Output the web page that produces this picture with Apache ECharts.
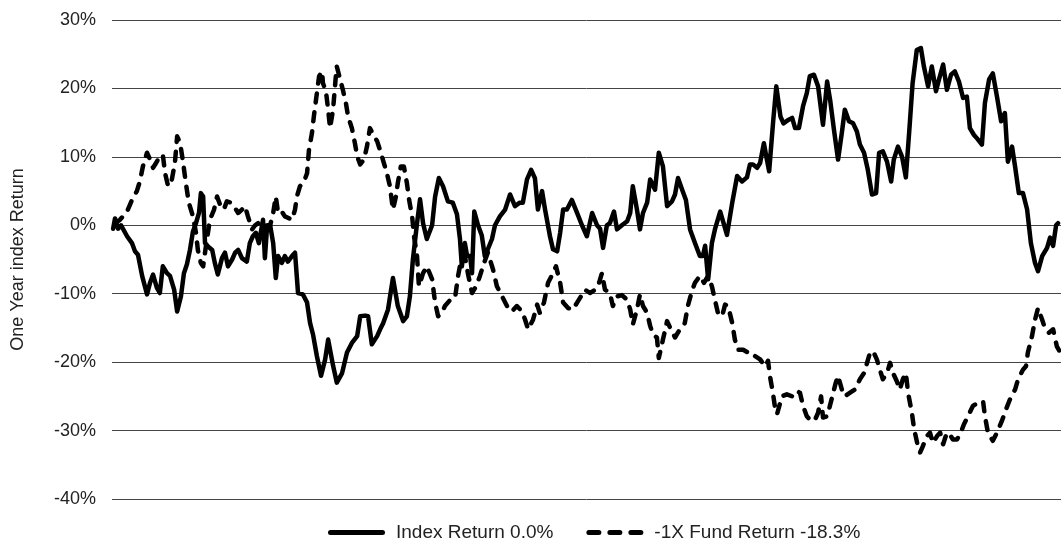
<!DOCTYPE html>
<html>
<head>
<meta charset="utf-8">
<script src="https://cdn.jsdelivr.net/npm/echarts@6/dist/echarts.min.js"></script>
<style>
html,body{margin:0;padding:0;background:#fff;}
#chart{width:1061px;height:539px;}
</style>
</head>
<body>
<div id="chart"></div>
<script>
// Trading day index (0..252) and one-year returns in percent
const indexDay = [0.3,0.8,1.6,2.4,4.0,5.3,6.1,6.9,8.0,9.3,10.1,10.9,11.9,12.7,13.5,14.6,15.4,16.5,17.3,18.3,19.1,19.9,20.7,21.5,22.3,23.1,23.6,24.2,24.7,25.5,26.6,27.3,28.1,29.2,30.0,30.8,31.9,32.7,33.5,34.5,35.8,36.6,37.4,38.2,39.0,40.1,40.6,41.2,42.0,42.8,43.5,44.1,45.1,45.9,46.7,47.8,48.6,49.4,50.7,51.8,52.6,53.4,54.4,55.5,56.6,57.4,58.7,59.7,61.1,62.4,63.7,65.1,65.9,67.2,68.0,69.0,70.4,71.2,72.0,73.3,74.6,75.9,77.3,78.3,79.1,79.9,81.0,81.8,82.6,83.6,85.0,85.8,86.8,87.9,89.2,90.5,91.6,92.4,92.9,93.7,94.3,95.1,95.6,96.2,97.2,98.2,99.0,99.8,100.9,101.7,103.0,104.4,105.7,107.0,108.3,109.1,110.2,111.3,112.3,113.1,114.2,115.0,116.3,117.1,118.2,119.0,119.8,120.8,122.1,123.5,124.8,126.1,127.5,128.8,129.6,130.4,131.4,132.2,133.3,134.1,135.4,136.8,137.6,138.3,139.4,140.2,141.0,142.1,142.9,144.2,145.2,146.3,147.4,148.7,149.5,150.3,151.4,152.4,153.5,154.8,156.1,156.9,157.5,158.3,159.3,160.1,161.5,162.3,163.3,164.7,166.0,167.3,168.6,169.4,170.2,171.3,172.1,173.1,173.9,174.5,175.6,176.4,177.5,178.3,179.6,180.6,181.4,182.4,183.5,184.5,185.3,186.4,187.5,188.8,189.9,190.7,191.7,192.8,193.8,194.6,195.7,196.8,197.8,198.6,199.7,200.7,201.8,202.9,203.7,204.7,205.8,206.9,207.6,208.7,209.8,210.8,211.8,212.6,213.7,214.8,215.6,216.7,217.7,218.8,219.6,220.7,221.7,222.8,223.8,224.9,226.0,227.0,227.8,228.9,229.7,231.0,231.8,232.9,233.9,235.0,236.1,237.1,237.9,239.0,239.8,240.8,241.9,243.0,244.0,245.1,245.9,247.0,248.3,249.1,249.9,250.7,251.2];
const indexRet = [-0.5,1.0,-0.5,0,-1.6,-2.6,-3.8,-4.3,-7.4,-10.1,-8.4,-7.2,-9.1,-9.9,-6.0,-7.0,-7.4,-9.4,-12.6,-10.4,-7.0,-5.7,-3.6,-0.9,0.3,1.8,4.7,4.2,-2.6,-3.1,-3.6,-5.5,-7.2,-4.8,-4.0,-6.0,-5.0,-4.0,-3.6,-4.8,-5.3,-2.6,-1.6,-1.1,-2.6,0.8,-4.8,0,0,-2.6,-7.7,-4.5,-5.5,-4.5,-5.3,-4.5,-4.0,-9.9,-10.1,-11.3,-14.3,-16.0,-19.1,-22.0,-19.6,-16.7,-20.5,-23.0,-21.6,-18.6,-17.2,-16.2,-13.3,-13.2,-13.3,-17.4,-16.2,-15.2,-14.3,-12.3,-7.7,-11.8,-14.0,-13.3,-10.4,-5.0,0.3,3.8,0.3,-2.0,0,4.2,6.9,5.7,3.5,3.3,1.6,-2.0,-6.0,-2.6,-4.5,-4.5,-7.0,2.0,0,-1.5,-4.5,-3.5,-2.0,0,1.3,2.3,4.5,2.8,3.3,3.3,6.7,8.1,6.9,2.3,5.0,2.3,-1.6,-3.5,-3.8,-1.1,2.3,2.3,3.7,1.8,0,-1.6,1.8,0,-0.5,-3.3,0,0.3,2.0,-0.6,0,0.6,1.8,5.7,2.3,-0.6,1.8,3.3,6.7,5.2,10.6,8.6,2.8,3.5,4.5,6.9,5.2,3.7,-0.6,-2.6,-4.5,-4.5,-3.0,-7.9,-2.6,-0.6,2.0,0.5,-1.4,3.3,7.2,6.4,7.0,8.9,8.9,8.4,9.1,12.0,9.6,7.9,15.4,20.3,15.9,14.9,15.4,15.7,14.2,14.2,17.4,19.3,21.8,22.0,20.3,14.7,21.0,18.3,14.0,9.6,13.5,16.9,15.2,14.9,13.7,11.8,10.6,8.1,4.5,4.7,10.6,10.8,9.3,6.4,9.6,11.5,10.0,7.0,14.5,20.8,25.6,25.9,23.2,20.3,23.2,19.6,21.3,23.5,19.8,22.0,22.5,21.0,18.6,18.8,14.2,13.2,12.7,11.8,17.9,21.3,22.2,18.8,15.2,16.4,9.3,11.5,8.6,4.7,4.7,2.3,-2.6,-5.5,-6.7,-4.5,-3.3,-1.8,-3.0,0,0.3];

const fundDay = [0.8,2.1,4.0,5.3,6.6,7.4,8.2,9.3,10.1,10.9,11.7,12.7,13.5,14.1,14.9,15.9,16.7,17.3,18.1,18.9,19.6,20.4,21.5,22.3,22.8,23.6,24.2,25.0,26.0,27.1,27.9,28.7,29.7,30.5,31.6,32.7,33.5,34.5,35.3,36.1,37.2,38.0,38.8,39.8,40.6,42.0,42.8,43.5,44.1,45.1,45.9,46.7,47.8,48.6,49.1,49.9,51.0,51.8,52.3,53.1,53.6,54.4,55.0,55.8,56.0,56.8,57.4,57.9,58.7,59.5,59.7,60.5,61.3,62.1,62.7,63.7,64.5,65.1,65.9,66.9,67.7,68.5,69.3,70.4,71.4,72.2,73.0,73.8,74.6,75.4,75.9,76.7,77.5,78.3,78.9,79.7,80.2,81.0,81.5,82.6,83.6,85.0,85.8,86.6,87.6,88.4,89.8,91.1,91.9,92.9,93.7,94.5,95.6,96.7,97.7,98.8,99.8,101.2,102.2,103.6,104.9,106.2,107.5,108.9,109.7,110.5,111.8,112.9,113.6,114.7,115.8,117.1,117.9,119.0,119.8,121.1,122.4,123.5,124.5,125.6,126.9,128.3,129.0,130.1,130.9,132.2,133.0,134.1,135.4,136.8,137.6,138.3,139.4,140.2,141.0,142.1,142.9,143.7,144.7,145.2,146.3,147.4,148.4,149.5,150.8,152.1,152.9,154.0,154.8,156.1,157.2,158.3,159.3,160.1,160.9,162.0,162.8,163.6,164.7,165.4,166.2,167.6,168.9,170.0,170.7,172.1,173.4,174.2,174.7,175.5,176.0,176.6,177.9,179.2,180.6,181.9,182.7,183.5,184.5,185.6,186.7,187.5,188.3,188.8,189.9,190.4,191.5,192.2,192.8,193.8,194.6,195.9,197.3,198.6,199.7,200.5,201.3,202.1,203.1,203.9,204.7,205.8,206.6,207.4,208.4,209.2,210.0,210.8,211.4,212.4,213.0,213.8,214.6,215.3,216.4,217.2,218.0,219.1,219.9,220.7,221.7,222.5,223.3,224.4,225.4,226.2,227.3,228.6,230.0,231.3,231.8,232.6,233.9,235.0,236.3,237.4,238.4,239.8,240.6,241.9,242.7,243.2,244.3,245.1,245.9,247.0,247.7,248.8,249.9,250.9,251.5];
const fundRet = [0.3,0.8,2.0,3.7,5.0,6.4,8.6,10.6,9.6,8.4,9.1,10.1,10.3,7.6,5.7,6.7,9.1,13.0,12.0,9.1,6.2,3.3,1.3,-1.1,-3.6,-5.5,-6.0,-2.8,0.8,2.3,4.2,3.0,2.3,3.5,3.3,2.5,1.8,2.3,2.8,1.3,-0.6,0,0.3,-0.5,-0.5,0,1.8,4.2,1.8,2.0,1.3,1.1,0.8,2.3,4.2,5.7,6.4,7.6,11.0,13.5,15.9,19.3,21.8,22.5,20.8,19.6,16.9,14.2,16.9,22.2,23.2,21.5,19.8,17.9,15.9,14.2,12.0,10.1,8.9,9.6,11.5,14.2,13.3,12.3,10.6,9.1,7.6,5.7,2.3,4.2,6.2,8.6,8.6,6.2,3.7,1.3,-1.6,-4.5,-8.9,-7.0,-6.0,-7.9,-11.3,-13.3,-12.8,-11.8,-10.9,-10.6,-7.4,-4.5,-4.5,-7.0,-9.9,-8.9,-7.4,-5.5,-4.0,-6.5,-8.9,-10.4,-11.8,-12.6,-11.8,-12.6,-13.8,-15.2,-13.8,-11.6,-12.8,-11.3,-8.4,-7.0,-6.0,-8.4,-11.3,-12.1,-12.3,-11.3,-10.4,-9.4,-9.9,-9.4,-9.0,-7.0,-9.4,-9.9,-11.8,-10.4,-10.2,-10.9,-12.3,-14.5,-12.3,-10.1,-11.8,-12.8,-14.7,-16.0,-16.4,-19.4,-16.7,-14.0,-15.2,-16.4,-15.2,-14.3,-11.8,-9.6,-8.4,-7.4,-8.4,-7.4,-8.9,-10.9,-12.8,-13.3,-11.6,-11.8,-14.3,-16.7,-18.2,-18.2,-18.6,-18.6,-19.1,-19.6,-20.6,-19.8,-22.0,-24.5,-26.4,-27.6,-25.0,-24.7,-25.0,-24.2,-24.5,-26.4,-27.9,-28.6,-28.4,-27.4,-25.0,-28.1,-27.9,-26.9,-24.5,-23.0,-22.0,-24.0,-25.0,-24.5,-24.0,-22.5,-21.6,-20.1,-18.6,-18.4,-19.6,-21.1,-22.5,-21.6,-20.1,-21.6,-22.8,-24.0,-22.5,-21.6,-24.5,-27.4,-29.8,-31.8,-33.2,-32.3,-30.8,-30.3,-31.8,-30.8,-30.3,-32.0,-30.3,-30.6,-31.3,-31.3,-30.3,-29.1,-27.9,-26.4,-25.9,-25.7,-27.9,-30.3,-31.5,-30.3,-28.6,-26.9,-25.5,-24.0,-22.5,-21.1,-20.6,-18.6,-16.2,-13.8,-12.1,-13.8,-15.0,-15.7,-15.2,-17.7,-18.3];

const yTicks = [-40, -30, -20, -10, 0, 10, 20, 30];
const seriesNames = ['Index Return 0.0%', '-1X Fund Return -18.3%'];
const yAxisName = 'One Year index Return';

function pairs(xs, ys) { return xs.map((x, i) => [x, ys[i]]); }

const FONT = 'Liberation Sans, Arial, Helvetica, sans-serif';
const SOLID_ICON = 'path://M2.5,0 L54.5,0 A2.5,2.5 0 0 1 54.5,5 L2.5,5 A2.5,2.5 0 0 1 2.5,0 Z';
const DASH_ICON = 'path://M2.5,0 L12.5,0 A2.5,2.5 0 0 1 12.5,5 L2.5,5 A2.5,2.5 0 0 1 2.5,0 Z ' +
  'M23.5,0 L33.5,0 A2.5,2.5 0 0 1 33.5,5 L23.5,5 A2.5,2.5 0 0 1 23.5,0 Z ' +
  'M44.5,0 L54.5,0 A2.5,2.5 0 0 1 54.5,5 L44.5,5 A2.5,2.5 0 0 1 44.5,0 Z';

const chart = echarts.init(document.getElementById('chart'), null, { renderer: 'canvas' });
chart.setOption({
  animation: false,
  backgroundColor: '#ffffff',
  grid: { left: 112, right: 0, top: 20, bottom: 40, containLabel: false },
  xAxis: { type: 'value', min: 0, max: 252, show: false },
  yAxis: {
    type: 'value', min: yTicks[0], max: yTicks[yTicks.length - 1], interval: 10,
    name: yAxisName, nameLocation: 'middle', nameGap: 85, nameRotate: 90,
    nameTextStyle: { color: '#222', fontSize: 18, fontFamily: FONT },
    axisLine: { show: false }, axisTick: { show: false },
    axisLabel: { formatter: '{value}%', color: '#222', fontSize: 18, fontFamily: FONT, margin: 16 },
    splitLine: { show: true, lineStyle: { color: '#444', width: 1 } }
  },
  legend: {
    left: 323, top: 518, itemWidth: 57, itemHeight: 5, itemGap: 33,
    itemStyle: { color: '#000', borderWidth: 0 },
    textStyle: { color: '#222', fontSize: 19, fontFamily: FONT, padding: [0, 0, 0, 6] },
    data: [
      { name: seriesNames[0], icon: SOLID_ICON },
      { name: seriesNames[1], icon: DASH_ICON }
    ]
  },
  series: [
    {
      name: seriesNames[0], type: 'line', data: pairs(indexDay, indexRet),
      showSymbol: false, symbol: 'none', smooth: false,
      lineStyle: { color: '#000', width: 4.5, cap: 'round', join: 'round' },
      itemStyle: { color: '#000' }
    },
    {
      name: seriesNames[1], type: 'line', data: pairs(fundDay, fundRet),
      showSymbol: false, symbol: 'none', smooth: false,
      lineStyle: { color: '#000', width: 4.5, type: [9, 10], cap: 'round', join: 'round' },
      itemStyle: { color: '#000' }
    }
  ]
});
</script>
</body>
</html>
